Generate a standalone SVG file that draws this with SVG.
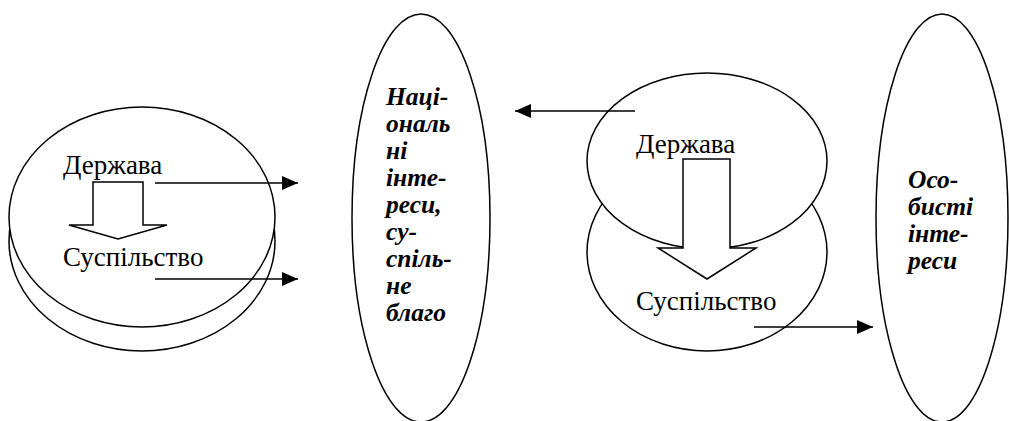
<svg xmlns="http://www.w3.org/2000/svg" width="1009" height="421" viewBox="0 0 1009 421">
<style>
.sh{fill:#fff;stroke:#000;stroke-width:1.5}
.con{stroke:#000;stroke-width:1.5;fill:none}
</style>
<defs>
<marker id="ah" viewBox="0 0 16 14" refX="16" refY="7" markerWidth="16" markerHeight="14" markerUnits="userSpaceOnUse" orient="auto">
<path d="M0,0 L16,7 L0,14 Z" fill="#000"/>
</marker>
</defs>
<rect width="1009" height="421" fill="#fff"/>
<g id="left-disc">
<ellipse class="sh" cx="142" cy="241" rx="133" ry="110"/>
<ellipse class="sh" cx="142" cy="217" rx="133" ry="110"/>
<polygon class="sh" points="93,182 143,182 143,225 167,225 118,239 69,225 93,225"/>
<g font-family="Liberation Serif, Times New Roman, serif" font-size="27" fill="#000">
<text x="63" y="174">Держава</text>
<text x="63" y="266">Суспільство</text>
</g>
</g>
<g id="national-interests">
<ellipse class="sh" cx="421" cy="218" rx="69" ry="204"/>
<text font-family="Liberation Serif, Times New Roman, serif" font-size="25.5" font-weight="bold" font-style="italic" fill="#000">
<tspan x="386" y="105">Наці-</tspan>
<tspan x="386" y="132">ональ</tspan>
<tspan x="386" y="159">ні</tspan>
<tspan x="386" y="186">інте-</tspan>
<tspan x="386" y="213">реси,</tspan>
<tspan x="386" y="240">су-</tspan>
<tspan x="386" y="267">спіль-</tspan>
<tspan x="386" y="294">не</tspan>
<tspan x="386" y="321">благо</tspan>
</text>
</g>
<g id="right-disc">
<ellipse class="sh" cx="707" cy="252" rx="120" ry="99"/>
<ellipse class="sh" cx="707" cy="161" rx="120" ry="88"/>
<polygon class="sh" points="683,159 730,159 730,248 756,248 707,279 658,248 683,248"/>
<g font-family="Liberation Serif, Times New Roman, serif" font-size="27" fill="#000">
<text x="636" y="153">Держава</text>
<text x="636" y="310">Суспільство</text>
</g>
</g>
<g id="personal-interests">
<ellipse class="sh" cx="942" cy="218" rx="66" ry="204"/>
<text font-family="Liberation Serif, Times New Roman, serif" font-size="25.5" font-weight="bold" font-style="italic" fill="#000">
<tspan x="908" y="188">Осо-</tspan>
<tspan x="908" y="215">бисті</tspan>
<tspan x="908" y="242">інте-</tspan>
<tspan x="908" y="269">реси</tspan>
</text>
</g>
<g id="connectors">
<line class="con" x1="155" y1="183" x2="298" y2="183" marker-end="url(#ah)"/>
<line class="con" x1="155" y1="279" x2="298" y2="279" marker-end="url(#ah)"/>
<line class="con" x1="635" y1="111" x2="515" y2="111" marker-end="url(#ah)"/>
<line class="con" x1="754" y1="327" x2="873" y2="327" marker-end="url(#ah)"/>
</g>
</svg>
